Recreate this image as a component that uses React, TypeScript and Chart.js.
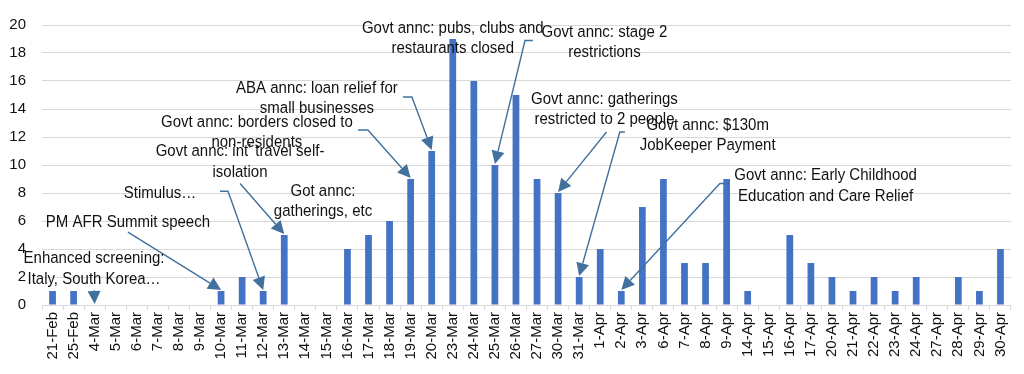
import React, { useEffect, useRef } from 'react';
import { Chart, registerables } from 'chart.js';

Chart.register(...registerables);

const categories = ['21-Feb', '25-Feb', '4-Mar', '5-Mar', '6-Mar', '7-Mar', '8-Mar', '9-Mar', '10-Mar', '11-Mar', '12-Mar', '13-Mar', '14-Mar', '15-Mar', '16-Mar', '17-Mar', '18-Mar', '19-Mar', '20-Mar', '23-Mar', '24-Mar', '25-Mar', '26-Mar', '27-Mar', '30-Mar', '31-Mar', '1-Apr', '2-Apr', '3-Apr', '6-Apr', '7-Apr', '8-Apr', '9-Apr', '14-Apr', '15-Apr', '16-Apr', '17-Apr', '20-Apr', '21-Apr', '22-Apr', '23-Apr', '24-Apr', '27-Apr', '28-Apr', '29-Apr', '30-Apr'];

const values = [1, 1, 0, 0, 0, 0, 0, 0, 1, 2, 1, 5, 0, 0, 4, 5, 6, 9, 11, 19, 16, 10, 15, 9, 8, 2, 4, 1, 7, 9, 3, 3, 9, 1, 0, 5, 3, 2, 1, 2, 1, 2, 0, 2, 1, 4];

const yTickMin = 0;
const yTickMax = 20;
const yTickStep = 2;

// Annotation texts and the bar each one points at
const noteTexts = [
  ['Enhanced screening:', 'Italy, South Korea…'],
  ['PM AFR Summit speech'],
  ['Stimulus…'],
  ["Govt annc: int' travel self-", 'isolation'],
  ['Govt annc: borders closed to', 'non-residents'],
  ['Got annc:', 'gatherings, etc'],
  ['ABA annc: loan relief for', 'small businesses'],
  ['Govt annc: pubs, clubs and', 'restaurants closed'],
  ['Govt annc: stage 2', 'restrictions'],
  ['Govt annc: gatherings', 'restricted to 2 people'],
  ['Govt annc: $130m', 'JobKeeper Payment'],
  ['Govt annc: Early Childhood', 'Education and Care Relief'],
];
const noteTargets = ['4-Mar', '10-Mar', '12-Mar', '13-Mar', '19-Mar', null, '20-Mar', null, '25-Mar', '30-Mar', '31-Mar', '2-Apr'];

// Layout of annotations, in data coordinates (category index, value)
const noteLayout = [
  { at: [1.97, 3.33], from: [1.97, 1.05], elbow: null },
  { at: [3.58, 5.9], from: [3.58, 5.2], elbow: null },
  { at: [5.1, 8.0], from: [7.95, 8.13], elbow: [8.33, 8.13] },
  { at: [8.9, 10.97], from: [8.9, 8.68], elbow: null },
  { at: [9.7, 13.06], from: [14.5, 12.5], elbow: [14.97, 12.5] },
  { at: [12.84, 8.13], from: null, elbow: null },
  { at: [12.55, 15.49], from: [16.63, 14.86], elbow: [17.06, 14.86] },
  { at: [19.0, 19.79], from: null, elbow: null },
  { at: [26.2, 19.51], from: [22.8, 18.89], elbow: [22.43, 18.89] },
  { at: [26.2, 14.72], from: [26.3, 12.36], elbow: null },
  { at: [31.1, 12.85], from: [27.17, 12.36], elbow: [26.93, 12.36] },
  { at: [36.7, 9.24], from: [32.15, 8.68], elbow: [31.68, 8.68] },
];

const FONT = '"Liberation Sans", Arial, sans-serif';
const BAR_COLOR = '#4472C4';
const ARROW_COLOR = '#41719C';
const GRID_COLOR = '#d9d9d9';

const notesPlugin = {
  id: 'notes',
  afterDatasetsDraw(chart: any) {
    const { ctx } = chart;
    const x = chart.scales.x;
    const y = chart.scales.y;
    ctx.save();
    // arrows
    noteLayout.forEach((n, i) => {
      const target = noteTargets[i];
      if (!target || !n.from) return;
      const ti = categories.indexOf(target);
      const tx = x.getPixelForValue(ti);
      const ty = y.getPixelForValue(values[ti]) - 1;
      const pts = [n.from, ...(n.elbow ? [n.elbow] : [])].map((p: number[]) => [x.getPixelForValue(p[0]), y.getPixelForValue(p[1])]);
      const last = pts[pts.length - 1];
      const ang = Math.atan2(ty - last[1], tx - last[0]);
      const L = 13;
      const W = 6.5;
      const bx = tx - L * Math.cos(ang);
      const by = ty - L * Math.sin(ang);
      ctx.strokeStyle = ARROW_COLOR;
      ctx.lineWidth = 1.4;
      ctx.beginPath();
      ctx.moveTo(pts[0][0], pts[0][1]);
      for (let k = 1; k < pts.length; k++) ctx.lineTo(pts[k][0], pts[k][1]);
      ctx.lineTo(bx, by);
      ctx.stroke();
      ctx.fillStyle = ARROW_COLOR;
      ctx.beginPath();
      ctx.moveTo(tx, ty);
      ctx.lineTo(bx + W * Math.sin(ang), by - W * Math.cos(ang));
      ctx.lineTo(bx - W * Math.sin(ang), by + W * Math.cos(ang));
      ctx.closePath();
      ctx.fill();
    });
    // texts
    ctx.font = '15px ' + FONT;
    ctx.fillStyle = '#111';
    ctx.textAlign = 'center';
    ctx.textBaseline = 'middle';
    noteLayout.forEach((n, i) => {
      const cx = x.getPixelForValue(n.at[0]);
      const cy = y.getPixelForValue(n.at[1]);
      noteTexts[i].forEach((line, k) => {
        ctx.save();
        ctx.translate(cx, cy + k * 20.5);
        ctx.scale(1, 1.14);
        ctx.fillText(line, 0, 0);
        ctx.restore();
      });
    });
    ctx.restore();
  },
};

export default function App() {
  const ref = useRef<HTMLCanvasElement | null>(null);
  useEffect(() => {
    if (!ref.current) return;
    Chart.defaults.font.family = FONT;
    const yTicks: number[] = [];
    for (let v = yTickMin; v <= yTickMax; v += yTickStep) yTicks.push(v);
    const chart = new Chart(ref.current, {
      type: 'bar',
      data: {
        labels: categories,
        datasets: [
          {
            data: values,
            backgroundColor: BAR_COLOR,
            categoryPercentage: 1,
            barPercentage: 0.32,
          },
        ],
      },
      options: {
        animation: false,
        responsive: false,
        devicePixelRatio: 1,
        layout: { padding: { left: 0, right: 13, top: 17, bottom: 0 } },
        plugins: { legend: { display: false }, tooltip: { enabled: false } },
        scales: {
          x: {
            grid: { drawOnChartArea: false, drawTicks: true, tickLength: 5, color: GRID_COLOR, offset: true },
            border: { color: GRID_COLOR },
            ticks: { minRotation: 90, maxRotation: 90, autoSkip: false, font: { size: 15 }, color: '#111', padding: 2 },
            afterFit: (s: any) => { s.height = 69; },
          },
          y: {
            min: yTickMin,
            max: yTickMax,
            afterBuildTicks: (s: any) => { s.ticks = yTicks.map((v) => ({ value: v })); },
            grid: { color: GRID_COLOR, drawTicks: false },
            border: { display: false },
            ticks: { font: { size: 15 }, color: '#111', padding: 16 },
            afterFit: (s: any) => { s.width = 42; },
          },
        },
      },
      plugins: [notesPlugin],
    });
    return () => chart.destroy();
  }, []);
  return (
    <div style={{ position: 'absolute', left: 0, top: 0, width: 1024, height: 374, background: '#fff' }}>
      <canvas ref={ref} width={1024} height={374} />
    </div>
  );
}
